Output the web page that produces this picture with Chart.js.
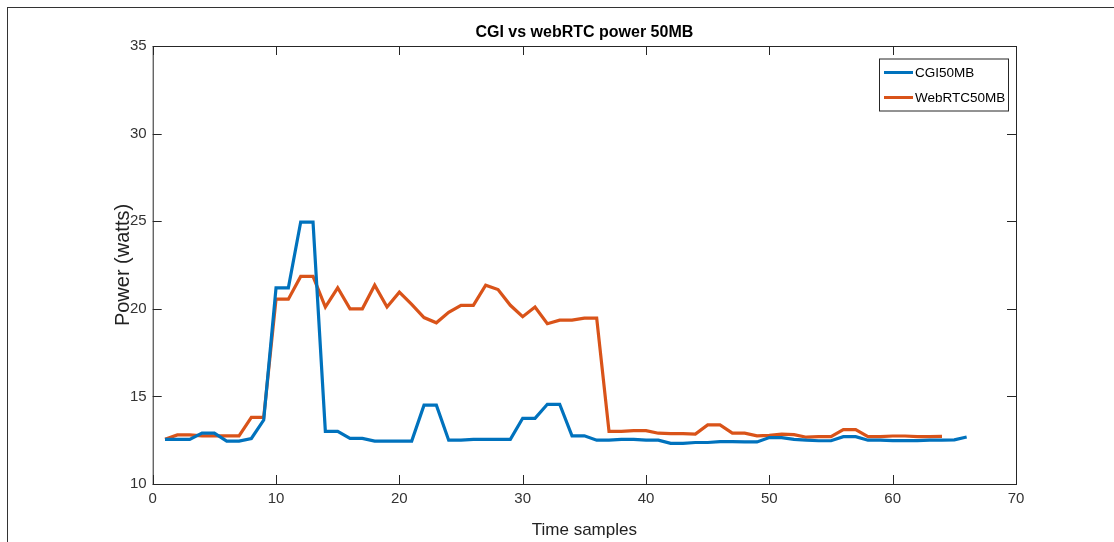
<!DOCTYPE html>
<html>
<head>
<meta charset="utf-8">
<script src="https://cdn.jsdelivr.net/npm/chart.js@4"></script>
<style>
  body { margin: 0; background: #fff; }
  #marco { position: absolute; left: 7px; top: 7px; width: 1120px; height: 560px; border: 1px solid #333; }
  #grafico { position: absolute; left: 0; top: 0; }
</style>
</head>
<body>
<div id="marco"></div>
<canvas id="grafico" width="1114" height="542"></canvas>
<script>
const titulo = "CGI vs webRTC power 50MB";
const muestrasCGI = [];
for (let i = 1; i <= 66; i++) muestrasCGI.push(i);
const muestrasWebRTC = muestrasCGI.slice(0, 64);

const potenciaCGI = [
  12.55, 12.55, 12.55, 12.9, 12.9, 12.45, 12.45, 12.6, 13.65, 21.2,
  21.2, 24.95, 24.95, 13.0, 13.0, 12.6, 12.6, 12.45, 12.45, 12.45,
  12.45, 14.5, 14.5, 12.5, 12.5, 12.55, 12.55, 12.55, 12.55, 13.75,
  13.75, 14.55, 14.55, 12.75, 12.75, 12.5, 12.5, 12.55, 12.55, 12.5,
  12.5, 12.32, 12.32, 12.37, 12.37, 12.42, 12.42, 12.4, 12.4, 12.65,
  12.65, 12.55, 12.5, 12.47, 12.47, 12.7, 12.7, 12.5, 12.5, 12.48,
  12.48, 12.48, 12.5, 12.5, 12.52, 12.68
];
const potenciaWebRTC = [
  12.55, 12.8, 12.8, 12.75, 12.75, 12.75, 12.75, 13.8, 13.8, 20.55,
  20.55, 21.85, 21.85, 20.1, 21.2, 20.0, 20.0, 21.35, 20.1, 20.95,
  20.25, 19.5, 19.2, 19.8, 20.2, 20.2, 21.35, 21.1, 20.2, 19.55,
  20.1, 19.15, 19.35, 19.35, 19.47, 19.47, 13.0, 13.0, 13.05, 13.05,
  12.9, 12.87, 12.87, 12.85, 13.37, 13.37, 12.9, 12.9, 12.75, 12.78,
  12.85, 12.82, 12.67, 12.7, 12.7, 13.1, 13.1, 12.7, 12.7, 12.74,
  12.74, 12.7, 12.7, 12.72
];

function armarPuntos(xs, ys) {
  return xs.map((x, i) => ({ x: x, y: ys[i] }));
}

const colorEjes = '#262626';
const fuente = "'Liberation Sans', Arial, sans-serif";

// caja, marcas hacia adentro, titulo y leyenda al estilo MATLAB
const estiloMatlab = {
  id: 'estiloMatlab',
  afterDraw(chart) {
    const ctx = chart.ctx;
    const a = chart.chartArea;
    const sx = chart.scales.x, sy = chart.scales.y;
    ctx.save();
    ctx.strokeStyle = colorEjes;
    ctx.lineWidth = 1;
    ctx.strokeRect(a.left + 0.5, a.top + 0.5, a.right - a.left, a.bottom - a.top);
    const largo = 9;
    ctx.beginPath();
    sx.ticks.forEach(t => {
      const px = Math.round(sx.getPixelForValue(t.value)) + 0.5;
      ctx.moveTo(px, a.bottom); ctx.lineTo(px, a.bottom - largo);
      ctx.moveTo(px, a.top); ctx.lineTo(px, a.top + largo);
    });
    sy.ticks.forEach(t => {
      const py = Math.round(sy.getPixelForValue(t.value)) + 0.5;
      ctx.moveTo(a.left, py); ctx.lineTo(a.left + largo, py);
      ctx.moveTo(a.right, py); ctx.lineTo(a.right - largo, py);
    });
    ctx.stroke();

    // titulo
    ctx.fillStyle = '#000';
    ctx.font = 'bold 16px ' + fuente;
    ctx.textAlign = 'center';
    ctx.textBaseline = 'middle';
    ctx.fillText(titulo, (a.left + a.right) / 2, 33);

    // leyenda
    const lx = a.right - 137, ly = a.top + 12.5, lw = 129, lh = 52;
    ctx.fillStyle = '#fff';
    ctx.fillRect(lx, ly, lw, lh);
    ctx.strokeStyle = '#262626';
    ctx.strokeRect(lx + 0.5, ly + 0.5, lw, lh);
    ctx.font = '13.5px ' + fuente;
    ctx.textAlign = 'left';
    chart.data.datasets.forEach((d, i) => {
      const y = ly + 14 + i * 25;
      ctx.strokeStyle = d.borderColor;
      ctx.lineWidth = 3;
      ctx.beginPath();
      ctx.moveTo(lx + 5, y); ctx.lineTo(lx + 34, y);
      ctx.stroke();
      ctx.fillStyle = '#000';
      ctx.fillText(d.label, lx + 36, y + 1);
    });
    ctx.restore();
  }
};

const ctx = document.getElementById('grafico').getContext('2d');
new Chart(ctx, {
  type: 'line',
  data: {
    datasets: [{
      label: 'CGI50MB',
      data: armarPuntos(muestrasCGI, potenciaCGI),
      borderColor: '#0072BD',
      borderWidth: 3.2,
      pointRadius: 0,
      fill: false,
      tension: 0
    }, {
      label: 'WebRTC50MB',
      data: armarPuntos(muestrasWebRTC, potenciaWebRTC),
      borderColor: '#D95319',
      borderWidth: 3.2,
      pointRadius: 0,
      fill: false,
      tension: 0
    }]
  },
  options: {
    responsive: false,
    animation: false,
    layout: { padding: { left: 100, right: 98, top: 46, bottom: 0 } },
    plugins: { legend: { display: false }, tooltip: { enabled: false } },
    scales: {
      x: {
        type: 'linear',
        min: 0, max: 70,
        grid: { display: false, drawTicks: false },
        border: { display: false },
        ticks: { stepSize: 10, padding: 6, color: '#333', font: { family: fuente, size: 15 } },
        title: { display: true, text: 'Time samples', color: '#222', padding: { top: 0, bottom: 1 }, font: { family: fuente, size: 17 } },
        afterFit(scale) { scale.height = 58; }
      },
      y: {
        min: 10, max: 35,
        grid: { display: false, drawTicks: false },
        border: { display: false },
        ticks: { stepSize: 5, padding: 6, color: '#333', font: { family: fuente, size: 15 } },
        title: { display: true, text: 'Power (watts)', color: '#222', padding: { top: 11, bottom: 0 }, font: { family: fuente, size: 20 } },
        afterFit(scale) { scale.width = 52.7; }
      }
    }
  },
  plugins: [estiloMatlab]
});
</script>
</body>
</html>
